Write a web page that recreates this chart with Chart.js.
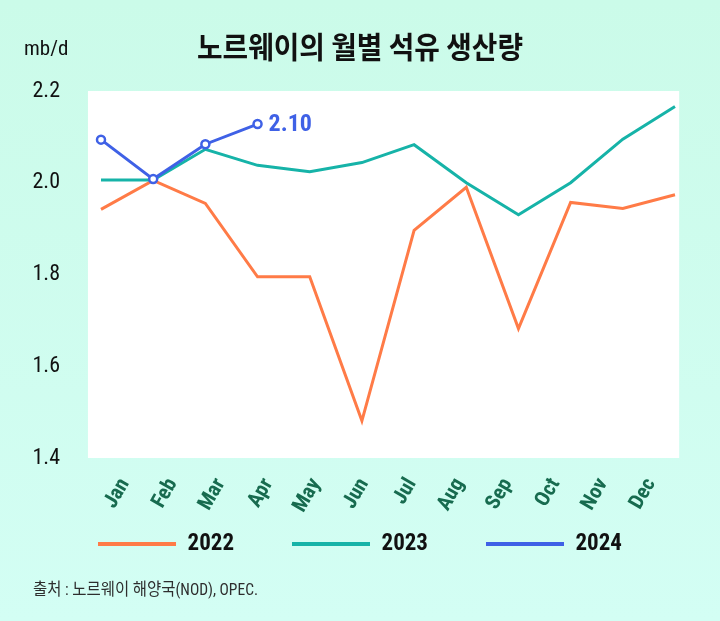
<!DOCTYPE html>
<html>
<head>
<meta charset="utf-8">
<script src="https://cdn.jsdelivr.net/npm/chart.js@4.4.1/dist/chart.umd.min.js"></script>
<style>
  html, body { margin: 0; padding: 0; background: #cffcec; }
  #wrap { width: 720px; height: 621px; }
</style>
</head>
<body>
<div id="wrap"><canvas id="c" width="720" height="621"></canvas></div>
<script>
const months = ['Jan','Feb','Mar','Apr','May','Jun','Jul','Aug','Sep','Oct','Nov','Dec'];
const series2022 = [1.942, 2.005, 1.955, 1.795, 1.795, 1.481, 1.896, 1.990, 1.682, 1.957, 1.944, 1.974];
const series2023 = [2.006, 2.006, 2.073, 2.038, 2.024, 2.044, 2.083, 2.000, 1.930, 2.000, 2.095, 2.166];
const series2024 = [2.094, 2.008, 2.084, 2.128];
const seriesNames = ['2022', '2023', '2024'];
const yTicks = [1.4, 1.6, 1.8, 2.0, 2.2];
const lastLabel2024 = '2.10';
const titleText = '노르웨이의 월별 석유 생산량';
const unitText = 'mb/d';
const sourceText = '출처 : 노르웨이 해양국(NOD), OPEC.';

const COND = "'Roboto Condensed', 'Noto Sans CJK KR', sans-serif";
const KR = "'Noto Sans CJK KR', sans-serif";
const C22 = '#ff7b47', C23 = '#16b3a8', C24 = '#3f61e6';

function drawFitted(ctx, text, font, x, y, targetWidth, align) {
  ctx.save();
  ctx.font = font;
  const w = ctx.measureText(text).width;
  const s = Math.min(1, targetWidth / w);
  ctx.textBaseline = 'middle';
  ctx.textAlign = 'left';
  const left = align === 'center' ? x - (w * s) / 2 : x;
  ctx.translate(left, y);
  ctx.scale(s, 1);
  ctx.fillText(text, 0, 0);
  ctx.restore();
}

const decorPlugin = {
  id: 'decor',
  afterLayout(chart) {
    const lg = chart.legend;
    if (!lg) return;
    const pad = lg.options.labels.padding;
    const itemH = Math.max(lg.options.labels.font.size || 23, 4);
    const shift = (lg.top + pad + itemH / 2) - 544;
    lg.top -= shift;
    lg.bottom -= shift;
    lg.left += 6;
    lg.right += 6;
  },
  beforeDraw(chart) {
    const {ctx, width, height, chartArea} = chart;
    ctx.save();
    const g = ctx.createLinearGradient(0, 0, 0, height);
    g.addColorStop(0, '#cbfbe9');
    g.addColorStop(1, '#d3fef4');
    ctx.fillStyle = g;
    ctx.fillRect(0, 0, width, height);
    const xs = chart.scales.x;
    const l = xs.getPixelForValue(-0.25);
    const r = xs.getPixelForValue(11.08);
    ctx.fillStyle = '#ffffff';
    ctx.fillRect(l, chartArea.top, r - l, chartArea.bottom - chartArea.top);
    ctx.fillStyle = '#111111';
    ctx.font = '21px ' + COND;
    ctx.textAlign = 'left';
    ctx.textBaseline = 'middle';
    ctx.fillText(unitText, 24, 50);
    drawFitted(ctx, titleText, 'bold 30px ' + KR, 360, 47, 326, 'center');
    ctx.fillStyle = '#2e2e2e';
    drawFitted(ctx, sourceText, '17px ' + COND, 33, 591, 225, 'left');
    ctx.restore();
  },
  afterDatasetsDraw(chart) {
    const meta = chart.getDatasetMeta(2);
    const pt = meta.data[meta.data.length - 1];
    if (!pt) return;
    const {ctx} = chart;
    ctx.save();
    ctx.fillStyle = C24;
    ctx.font = 'bold 24px ' + COND;
    ctx.textAlign = 'left';
    ctx.textBaseline = 'middle';
    ctx.fillText(lastLabel2024, pt.x + 11, pt.y + 1);
    ctx.restore();
  }
};

new Chart(document.getElementById('c'), {
  type: 'line',
  data: {
    labels: months,
    datasets: [
      { label: seriesNames[0], data: series2022, borderColor: C22, backgroundColor: C22, borderWidth: 3, pointRadius: 0, tension: 0, order: 3 },
      { label: seriesNames[1], data: series2023, borderColor: C23, backgroundColor: C23, borderWidth: 3, pointRadius: 0, tension: 0, order: 2 },
      { label: seriesNames[2], data: series2024, borderColor: C24, backgroundColor: C24, borderWidth: 3,
        pointRadius: 4, pointBorderWidth: 2.5, pointBackgroundColor: '#ffffff', pointBorderColor: C24, tension: 0, order: 1 }
    ]
  },
  options: {
    responsive: false,
    animation: false,
    events: [],
    layout: { padding: { left: 33, right: 45, top: 91, bottom: 2 } },
    scales: {
      x: {
        type: 'category',
        offset: false,
        display: false,
        grid: { display: false }
      },
      x2: {
        type: 'category',
        labels: months,
        position: 'bottom',
        offset: true,
        grid: { display: false, drawTicks: false },
        border: { display: false },
        afterFit(axis) { axis.height = 70; axis.paddingLeft = 0; axis.paddingRight = 0; },
        ticks: {
          color: '#176b4f',
          font: { family: COND, size: 21, weight: 'bold' },
          minRotation: 60,
          maxRotation: 60,
          padding: 16,
          autoSkip: false
        }
      },
      y: {
        min: 1.4,
        max: 2.2,
        grid: { display: false, drawTicks: false },
        border: { display: false },
        afterBuildTicks(axis) { axis.ticks = yTicks.map(v => ({ value: v })); },
        afterFit(axis) { axis.width = 68; },
        ticks: {
          color: '#111111',
          font: { family: COND, size: 22 },
          padding: 41,
          callback: v => Number(v).toFixed(1)
        }
      }
    },
    plugins: {
      tooltip: { enabled: false },
      title: { display: false },
      legend: {
        display: true,
        position: 'bottom',
        labels: {
          sort: (a, b) => a.datasetIndex - b.datasetIndex,
          boxWidth: 78,
          boxHeight: 4,
          padding: 58,
          color: '#111111',
          font: { family: COND, size: 23, weight: 'bold' },
          generateLabels(chart) {
            return chart.data.datasets.map((d, i) => ({
              text: d.label, fillStyle: d.borderColor, strokeStyle: d.borderColor,
              lineWidth: 0, hidden: false, datasetIndex: i, fontColor: '#111111'
            }));
          }
        }
      }
    }
  },
  plugins: [decorPlugin]
});
</script>
</body>
</html>
